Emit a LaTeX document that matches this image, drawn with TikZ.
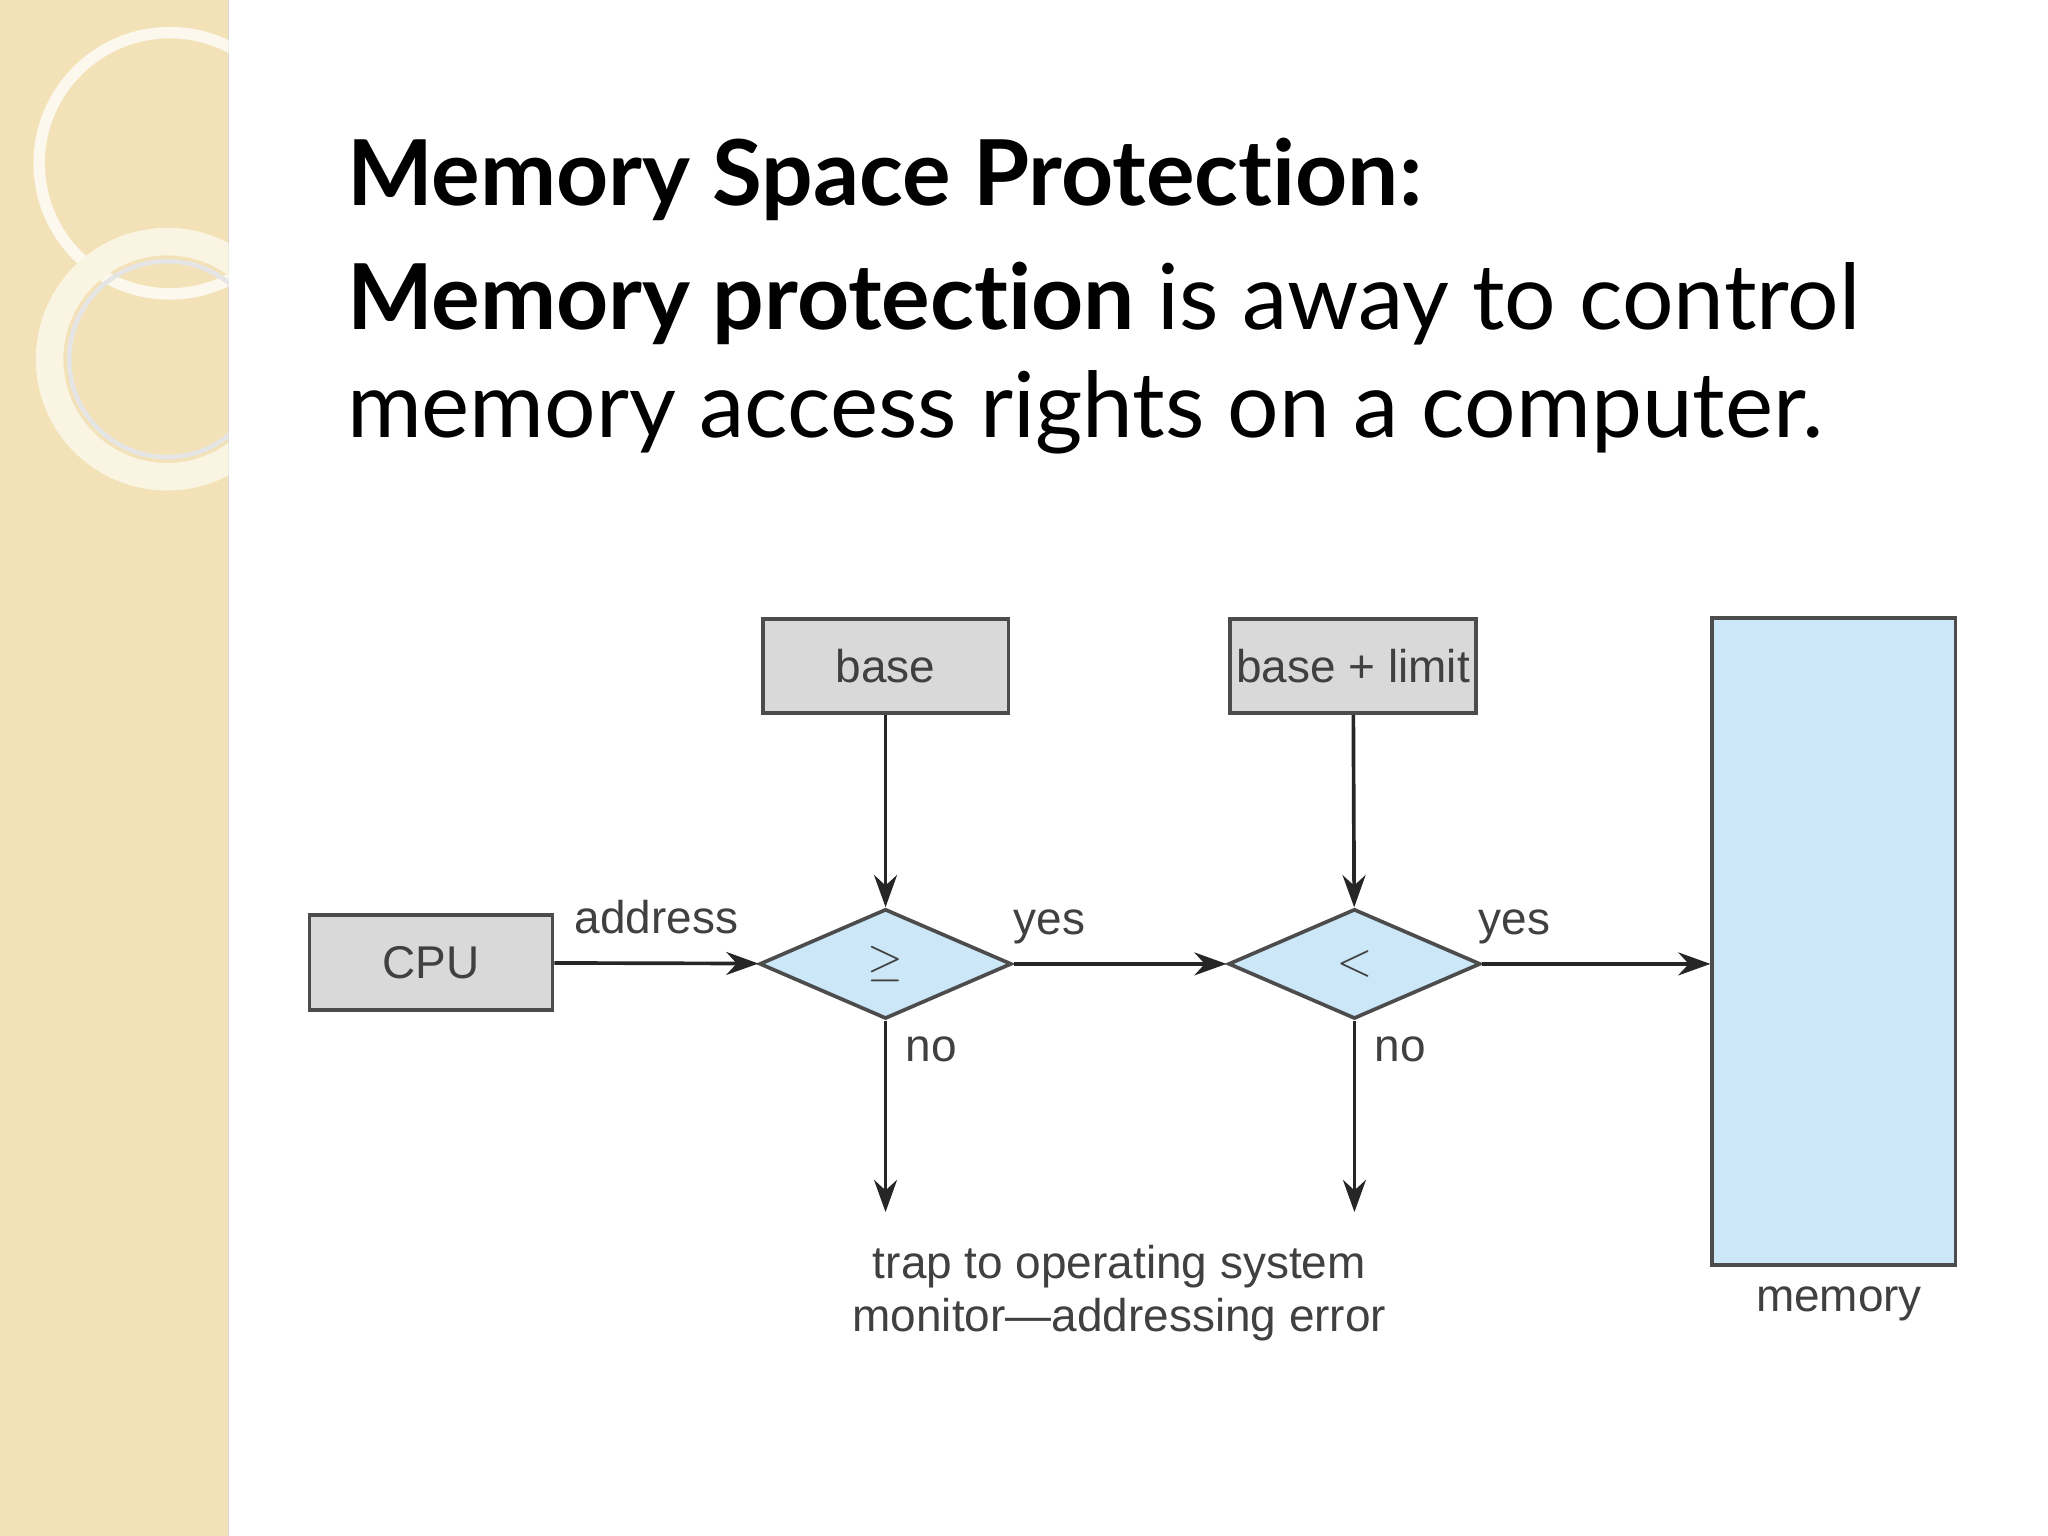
\documentclass[tikz,border=0pt]{standalone}
\usepackage{fontspec}
\setmainfont{Lato}[Ligatures={NoCommon,TeX}]
\newfontfamily\diagfont{Liberation Sans}[Ligatures=TeX]
\usetikzlibrary{arrows.meta,positioning,shapes.geometric}
\definecolor{stripe}{RGB}{243,226,184}
\definecolor{boxgray}{RGB}{217,217,217}
\definecolor{diamblue}{RGB}{204,232,248}
\tikzset{
box/.style={draw=black!70,fill=boxgray,thick,minimum width=1.88cm,minimum height=0.72cm,inner sep=0pt,font=\diagfont\fontsize{10}{12}\selectfont,text=black!75},
test/.style={draw=black!70,fill=diamblue,thick,diamond,aspect=2.3,minimum width=1.93cm,minimum height=0.84cm,inner sep=0pt,font=\fontsize{10}{12}\selectfont,text=black!75},
lbl/.style={font=\diagfont\fontsize{10}{11.5}\selectfont,text=black!75,inner sep=0pt},
arr/.style={->,>={Stealth[length=7pt,width=5pt]},thick,black!85},
}
\begin{document}
\begin{tikzpicture}[x=0.01cm,y=-0.01cm]
\useasboundingbox (0,0) rectangle (1568,1176);
\fill[white] (0,0) rectangle (1568,1176);
% side stripe
\fill[stripe] (0,0) rectangle (175,1176);
\draw[black!15] (175,0) -- (175,1176);
\begin{scope}
\clip (0,0) rectangle (175,1176);
\fill[black!10,opacity=.5] (0,0) -- (130,0) arc(0:-90:130 and 140) -- cycle;
\draw[white!75!stripe,line width=2.5pt] (130,125) circle (100);
\draw[white!60!stripe,line width=6pt] (128,275) circle (90);
\draw[black!10,line width=1pt] (128,275) circle (75);
\end{scope}
% title text
\node[anchor=base west,inner sep=0pt,font=\fontsize{19.8}{24}\selectfont\bfseries] at (265,157) {Memory Space Protection:};
\node[anchor=base west,inner sep=0pt,font=\fontsize{19.8}{24}\selectfont] at (265,252) {\textbf{Memory protection} is away to control};
\node[anchor=base west,inner sep=0pt,font=\fontsize{19.8}{24}\selectfont] at (265,335) {memory access rights on a computer.};
% diagram
\node[box] (base) at (678,510) {base};
\node[box] (limit) at (1036,510) {base + limit};
\node[box,minimum width=1.86cm,minimum height=0.73cm] (cpu) at (330,737) {CPU};
\node[test] (ge) at (678,738) {$\geq$};
\node[test] (lt) at (1037,738) {$<$};
\node[draw=black!70,fill=diamblue,thick,minimum width=1.86cm,minimum height=4.95cm] (mem) at (1404,721) {};
\coordinate (trapA) at (678,928);
\coordinate (trapB) at (1037,928);
\draw[arr] (base) -- (ge);
\draw[arr] (limit) -- (lt);
\draw[arr] (cpu) -- (ge) node[lbl,midway,above=6pt] {address};
\draw[arr] (ge) -- (lt) node[lbl,pos=0.17,above=4pt] {yes};
\draw[arr] (lt.east) -- (mem.west |- lt) node[lbl,pos=0.14,above=4pt] {yes};
\draw[arr] (ge) -- (trapA) node[lbl,pos=0.15,right=4pt] {no};
\draw[arr] (lt) -- (trapB) node[lbl,pos=0.15,right=4pt] {no};
\node[lbl,align=center] (trap) at (857,990) {trap to operating system\\monitor---addressing error};
\node[lbl] (memlbl) at (1408,998) {memory};
\end{tikzpicture}
\end{document}
